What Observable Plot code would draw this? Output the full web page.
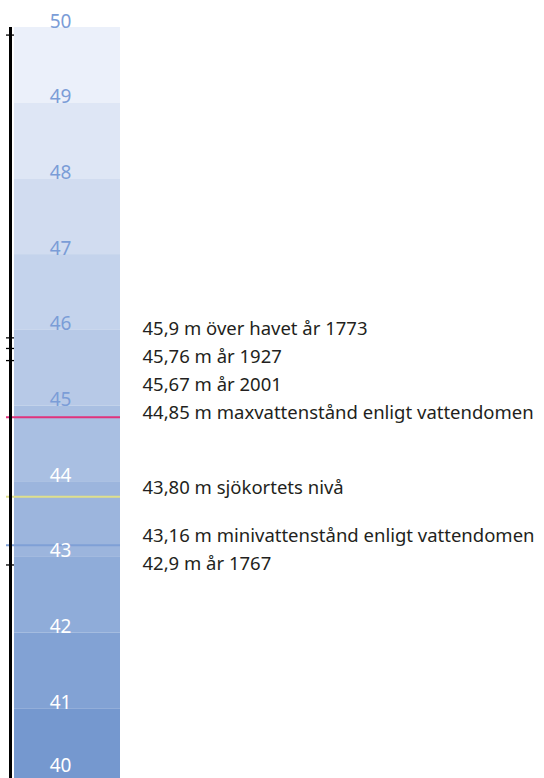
<!DOCTYPE html>
<html><head><meta charset="utf-8">
<script src="https://cdn.jsdelivr.net/npm/d3@7"></script>
<script src="https://cdn.jsdelivr.net/npm/@observablehq/plot@0.6"></script>
<style>body{margin:0;background:#fff}</style>
</head><body><div id="chart"></div>
<script>
// Data
const bandTops = [50, 49, 48, 47, 46, 45, 44, 43, 42, 41];
const scaleLabels = [50, 49, 48, 47, 46, 45, 44, 43, 42, 41, 40];
const levelValues = [45.9, 45.76, 45.67, 44.85, 43.80, 43.16, 42.9];
const levelTexts = [
  "45,9 m över havet år 1773",
  "45,76 m år 1927",
  "45,67 m år 2001",
  "44,85 m maxvattenstånd enligt vattendomen",
  "43,80 m sjökortets nivå",
  "43,16 m minivattenstånd enligt vattendomen",
  "42,9 m år 1767"
];
const lineValues = [44.85, 43.80, 43.16];
const tickValues = [49.9, 45.9, 45.76, 45.6, 42.9];

// Styles / layout
const lineColors = ["#e0327c", "#dfe08c", "#7fa0d6"];
const W = 544, H = 778;
const yDomain = [40, 50], yRange = [784, 27];
const pxPerM = (yRange[0] - yRange[1]) / (yDomain[1] - yDomain[0]);
const col = {axis: 10, tickL: 6, tickR: 14, bandL: 14, bandR: 120, num: 60, text: 142};
const gap = 28;

// dodge labels (push downward)
const labels = levelValues.map((v, i) => ({v, t: levelTexts[i]})).sort((a, b) => b.v - a.v);
let prev = -Infinity;
for (const d of labels) {
  let p = (yDomain[1] - d.v) * pxPerM;
  if (p < prev + gap) p = prev + gap;
  prev = p;
  d.pos = yDomain[1] - p / pxPerM;
}
const labelPos = d => Math.max(d, yDomain[0] + 0.17);

const chart = Plot.plot({
  width: W, height: H,
  marginTop: 0, marginBottom: 0, marginLeft: 0, marginRight: 0,
  style: {fontFamily: "'Noto Sans', sans-serif", background: "#fff"},
  x: {type: "identity", axis: null},
  y: {domain: yDomain, range: yRange, axis: null},
  color: {type: "linear", domain: [41, 50], range: ["#7598cf", "#ebf0fa"], interpolate: "rgb"},
  marks: [
    Plot.rect(bandTops, {x1: col.bandL, x2: col.bandR, y1: d => d - 1, y2: d => d, fill: d => d}),
    ...lineValues.map((v, i) => Plot.ruleY([v], {x1: col.tickL, x2: col.bandR, stroke: lineColors[i], strokeWidth: 2})),
    Plot.ruleX([col.axis], {y1: yDomain[1], y2: yDomain[0], stroke: "#000", strokeWidth: 3}),
    Plot.ruleY(tickValues, {x1: col.tickL, x2: col.tickR, stroke: "#000", strokeWidth: 1.3}),
    Plot.text(scaleLabels.filter(d => d >= 45), {x: col.num, y: labelPos, text: d => String(d), lineAnchor: "bottom", fontSize: 19, fill: "#7b9dd7"}),
    Plot.text(scaleLabels.filter(d => d < 45), {x: col.num, y: labelPos, text: d => String(d), lineAnchor: "bottom", fontSize: 19, fill: "#ffffff"}),
    Plot.text(labels, {x: col.text, y: "pos", text: "t", textAnchor: "start", lineAnchor: "bottom", dy: -3, fontSize: 18.5, fill: "#231f20"})
  ]
});
document.getElementById("chart").appendChild(chart);
</script>
</body></html>
